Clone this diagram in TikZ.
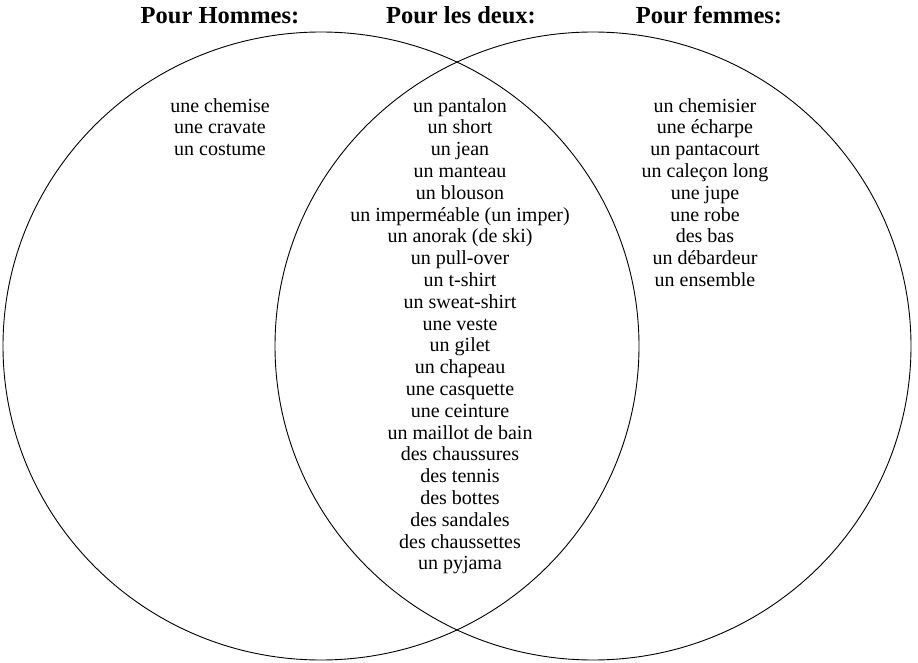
\documentclass[tikz,border=0pt]{standalone}
\usepackage{fontspec}
\setmainfont{Liberation Serif}
\usetikzlibrary{shapes.geometric,positioning}
\tikzset{
    % Outline of each set
    venn set/.style={
        ellipse,
        draw=black,
        line width=0.9pt,
        minimum width=636pt,
        minimum height=628pt,
        inner sep=0pt,
    },
    % Heading above each set
    heading/.style={
        font=\fontsize{24.5}{29}\selectfont\bfseries,
        anchor=base,
        inner sep=0pt,
    },
    % List of clothes inside a region
    clothes/.style={
        font=\fontsize{20}{21.8}\selectfont,
        align=center,
        anchor=north,
        inner sep=0pt,
    },
}

\begin{document}
\begin{tikzpicture}[x=1pt, y=-1pt]
    \useasboundingbox (0,0) rectangle (918,663);

    \node (hommes) [venn set] at (321,346) {};
    \node (femmes) [venn set] at (593,346) {};

    \node (titleHommes) [heading] at (220,24) {Pour Hommes:};
    \node (titleDeux) [heading] at (461,24) {Pour les deux:};
    \node (titleFemmes) [heading] at (709,24) {Pour femmes:};

    \node (listHommes) [clothes] at (220,98) {une chemise\\une cravate\\un costume};
    \node (listDeux) [clothes] at (460,98) {un pantalon\\un short\\un jean\\un manteau\\un blouson\\un imperméable (un imper)\\un anorak (de ski)\\un pull-over\\un t-shirt\\un sweat-shirt\\une veste\\un gilet\\un chapeau\\une casquette\\une ceinture\\un maillot de bain\\des chaussures\\des tennis\\des bottes\\des sandales\\des chaussettes\\un pyjama};
    \node (listFemmes) [clothes] at (705,98) {un chemisier\\une écharpe\\un pantacourt\\un caleçon long\\une jupe\\une robe\\des bas\\un débardeur\\un ensemble};
\end{tikzpicture}
\end{document}
